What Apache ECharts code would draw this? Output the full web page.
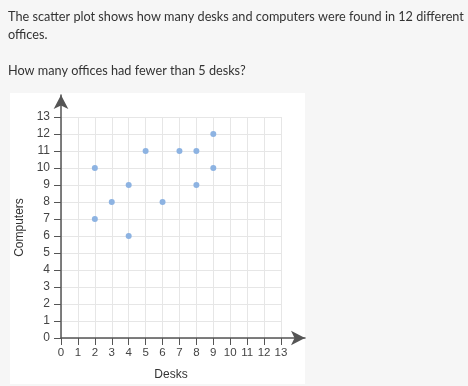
<!DOCTYPE html>
<html>
<head>
<meta charset="utf-8">
<style>
html,body{margin:0;padding:0;background:#f6f6f6;}
#chart{width:468px;height:386px;}
</style>
<script src="https://cdn.jsdelivr.net/npm/echarts@6/dist/echarts.min.js"></script>
</head>
<body>
<div id="chart"></div>
<script>
const questionLines = [
  "The scatter plot shows how many desks and computers were found in 12 different",
  "offices.",
  "How many offices had fewer than 5 desks?"
];
const xName = "Desks";
const yName = "Computers";
const desks =     [2, 2, 3, 4, 4, 5, 6, 7, 8, 8, 9, 9];
const computers = [10, 7, 8, 9, 6, 11, 8, 11, 11, 9, 12, 10];
const axisMin = 0, axisMax = 13, axisStep = 1;

const points = desks.map((d, i) => [d, computers[i]]);
const chart = echarts.init(document.getElementById('chart'), null, {renderer: 'canvas'});
const fontFam = 'Liberation Sans, Arial, sans-serif';
const qFont = '12.7px Lato, sans-serif';
chart.setOption({
  backgroundColor: '#f6f6f6',
  animation: false,
  graphic: [
    {type: 'rect', shape: {x: 10, y: 93, width: 295, height: 291}, style: {fill: '#ffffff'}, z: -10},
    {type: 'text', left: 8, top: 10, style: {text: questionLines[0], fill: '#333', font: qFont}},
    {type: 'text', left: 8, top: 28, style: {text: questionLines[1], fill: '#333', font: qFont}},
    {type: 'text', left: 8, top: 64, style: {text: questionLines[2], fill: '#333', font: qFont}}
  ],
  grid: [
    {left: 61, right: 187, top: 117, bottom: 48},
    {left: 61, right: 163, top: 95, bottom: 48}
  ],
  xAxis: [
    {
      type: 'value', gridIndex: 0, min: axisMin, max: axisMax, interval: axisStep,
      name: xName, nameLocation: 'middle', nameGap: 31,
      nameTextStyle: {color: '#333', fontFamily: fontFam, fontSize: 12},
      axisLine: {show: false},
      axisTick: {show: true, length: 7, lineStyle: {color: '#555'}},
      axisLabel: {margin: 9, color: '#444', fontFamily: fontFam, fontSize: 11.5},
      splitLine: {show: true, lineStyle: {color: '#e6e6e6', width: 1}}
    },
    {
      type: 'value', gridIndex: 1, min: 0, max: 1,
      axisLine: {show: true, symbol: ['none', 'arrow'], symbolSize: [11, 14], symbolOffset: [0, 0], lineStyle: {color: '#555', width: 1.5}},
      axisTick: {show: false}, axisLabel: {show: false}, splitLine: {show: false}
    }
  ],
  yAxis: [
    {
      type: 'value', gridIndex: 0, min: axisMin, max: axisMax, interval: axisStep,
      name: yName, nameLocation: 'middle', nameGap: 35,
      nameTextStyle: {color: '#333', fontFamily: fontFam, fontSize: 12},
      axisLine: {show: false},
      axisTick: {show: true, length: 7, lineStyle: {color: '#555'}},
      axisLabel: {margin: 11, color: '#444', fontFamily: fontFam, fontSize: 12},
      splitLine: {show: true, lineStyle: {color: '#e6e6e6', width: 1}}
    },
    {
      type: 'value', gridIndex: 1, min: 0, max: 1,
      axisLine: {show: true, symbol: ['none', 'arrow'], symbolSize: [11, 14], symbolOffset: [0, 0], lineStyle: {color: '#555', width: 1.5}},
      axisTick: {show: false}, axisLabel: {show: false}, splitLine: {show: false}
    }
  ],
  series: [{
    type: 'scatter', xAxisIndex: 0, yAxisIndex: 0,
    data: points, symbolSize: 6,
    itemStyle: {color: '#8db3e2', opacity: 1}
  }]
});
</script>
</body>
</html>
